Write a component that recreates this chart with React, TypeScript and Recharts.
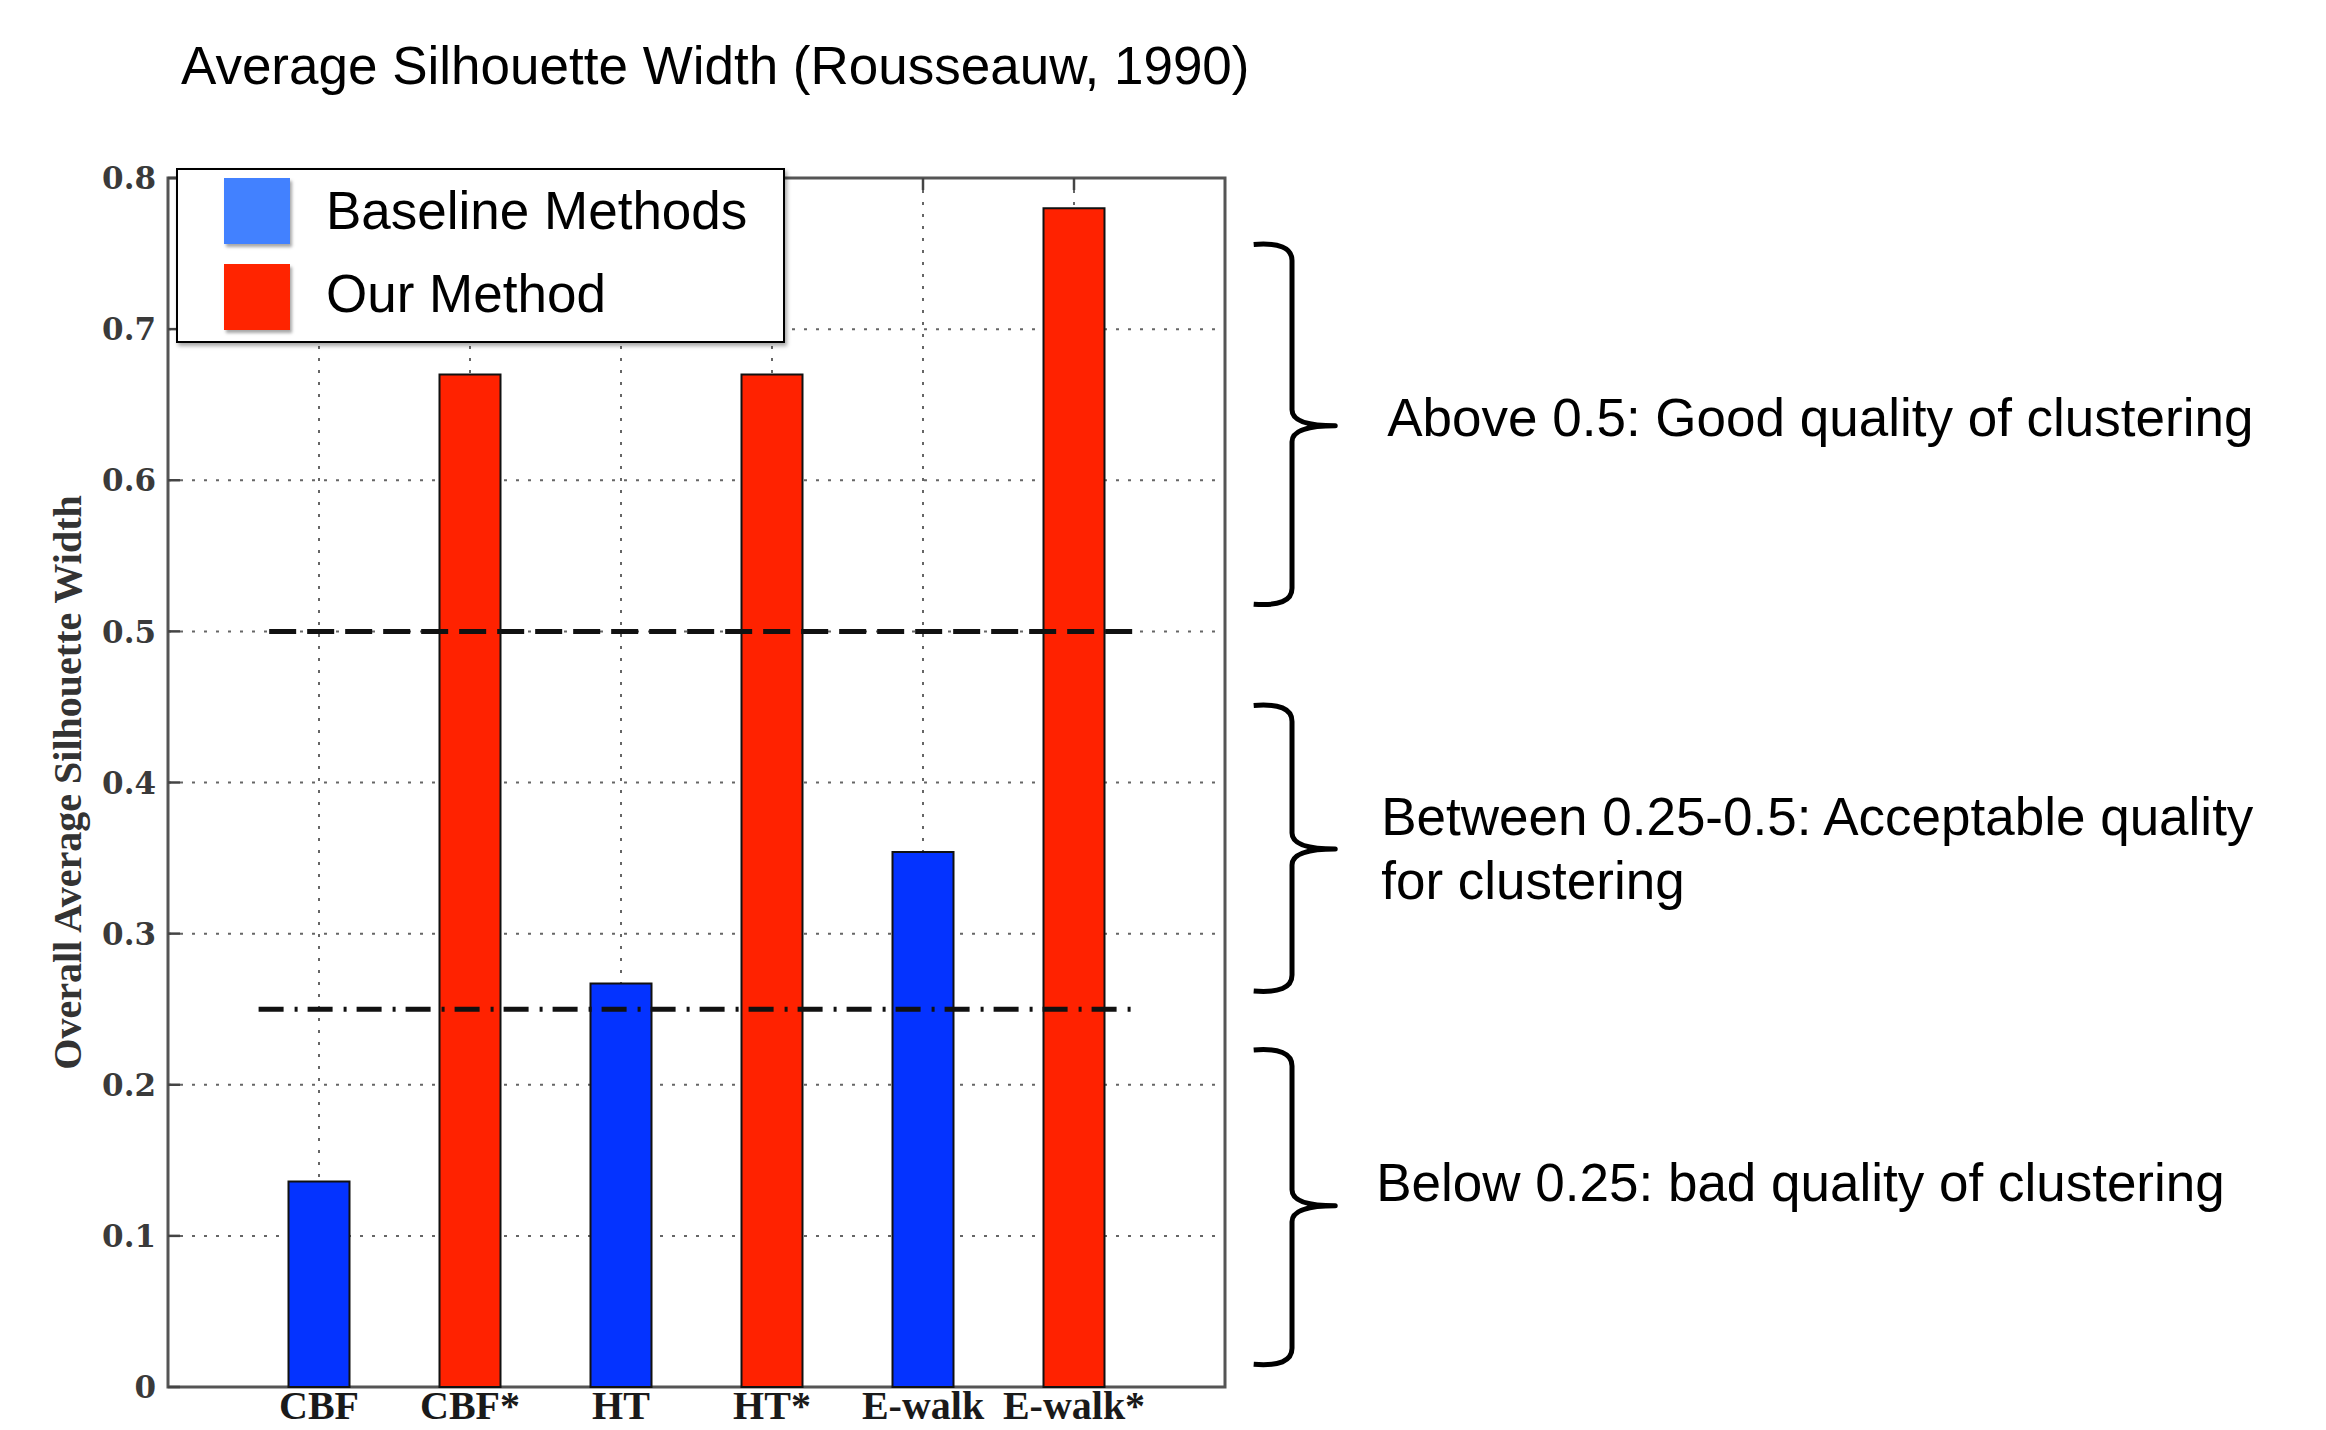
import React from 'react';
import {
  ComposedChart,
  Bar,
  XAxis,
  YAxis,
  CartesianGrid,
  ReferenceLine,
  ReferenceArea,
  Legend,
  Customized,
} from 'recharts';

// ---------- data ----------
const CATEGORIES = ['CBF', 'CBF*', 'HT', 'HT*', 'E-walk', 'E-walk*'];
const POSITIONS = [1, 2, 3, 4, 5, 6];
const BASELINE_VALUES: (number | null)[] = [0.136, null, 0.267, null, 0.354, null];
const OUR_VALUES: (number | null)[] = [null, 0.67, null, 0.67, null, 0.78];
const Y_TICKS = [0, 0.1, 0.2, 0.3, 0.4, 0.5, 0.6, 0.7, 0.8];
const SERIES_NAMES = ['Baseline Methods', 'Our Method'];
const GOOD_THRESHOLD = 0.5;
const ACCEPT_THRESHOLD = 0.25;
const GOOD_SPAN = [0.67, 6.4];
const ACCEPT_SPAN = [0.6, 6.4];
const BRACE_RANGES = [
  [0.518, 0.756],
  [0.262, 0.451],
  [0.015, 0.223],
];
const BRACE_TIPS = [0.636, 0.356, 0.12];
const BRACE_TEXTS = [
  ['Above 0.5: Good quality of clustering'],
  ['Between 0.25-0.5: Acceptable quality', 'for clustering'],
  ['Below 0.25: bad quality of clustering'],
];
const BRACE_X = [7.19, 7.73];
const TITLE = 'Average Silhouette Width (Rousseauw, 1990)';
const Y_LABEL = 'Overall Average Silhouette Width';

const data = POSITIONS.map((p, i) => {
  const row: any = { pos: p, label: CATEGORIES[i] };
  if (BASELINE_VALUES[i] != null) row.baseline = BASELINE_VALUES[i];
  if (OUR_VALUES[i] != null) row.ours = OUR_VALUES[i];
  return row;
});

// ---------- styles ----------
const BAR_BLUE = '#0433FF';
const BAR_RED = '#FF2200';
const LEGEND_COLORS = ['#4281FF', '#FF2400'];
const SANS = 'Liberation Sans, Arial, Helvetica, sans-serif';
const SERIF = 'Liberation Serif, Times New Roman, serif';
const TICK_SERIF = 'DejaVu Serif, serif';
const TEXT_DX = [52, 46, 41];
const TEXT_DY = [10, -14, -5];

const W = 2326;
const H = 1430;

const LeftTick = (props: any) => {
  const { x, y, payload } = props;
  const ax = x + 12;
  return (
    <g>
      <line x1={ax} x2={ax + 12} y1={y} y2={y} stroke="#444" strokeWidth={2.5} />
      <text
        x={x}
        y={y}
        dy="0.36em"
        textAnchor="end"
        fontFamily={TICK_SERIF}
        fontWeight="bold"
        fontSize={31}
        fill="#3a3a3a"
      >
        {payload.value === 0 ? '0' : String(payload.value)}
      </text>
    </g>
  );
};

const RightTick = (props: any) => {
  const { x, y } = props;
  return <line x1={x - 12} x2={x} y1={y} y2={y} stroke="#444" strokeWidth={2.5} />;
};

const TopTick = (props: any) => {
  const { x, y } = props;
  return <line x1={x} x2={x} y1={y} y2={y + 12} stroke="#444" strokeWidth={2.5} />;
};

const BottomTick = (props: any) => {
  const { x, y, payload } = props;
  const idx = POSITIONS.indexOf(payload.value);
  return (
    <text
      x={x}
      y={y}
      dy={32}
      textAnchor="middle"
      fontFamily={SERIF}
      fontWeight="bold"
      fontSize={40}
      fill="#1a1a1a"
    >
      {CATEGORIES[idx]}
    </text>
  );
};

const makeBrace = (i: number) => (props: any) => {
  const { x, y, width, height } = props;
  if (![x, y, width, height].every((v) => typeof v === 'number' && isFinite(v))) return null;
  const [lo, hi] = BRACE_RANGES[i];
  const frac = (hi - BRACE_TIPS[i]) / (hi - lo);
  const top = y;
  const bot = y + height;
  const ty = y + height * frac;
  const sx = x + width * 0.47;
  const tx = x + width;
  const r = 16;
  const d = [
    `M ${x} ${top}`,
    `Q ${sx} ${top - 3} ${sx} ${top + r}`,
    `L ${sx} ${ty - r}`,
    `Q ${sx} ${ty} ${tx} ${ty}`,
    `Q ${sx} ${ty} ${sx} ${ty + r}`,
    `L ${sx} ${bot - r}`,
    `Q ${sx} ${bot + 3} ${x} ${bot}`,
  ].join(' ');
  return (
    <g>
      <path d={d} fill="none" stroke="#000" strokeWidth={5} strokeLinejoin="round" />
      {BRACE_TEXTS[i].map((line, k) => (
        <text
          key={k}
          x={tx + TEXT_DX[i]}
          y={ty + TEXT_DY[i] + k * 64}
          fontFamily={SANS}
          fontSize={53}
          fill="#000"
        >
          {line}
        </text>
      ))}
    </g>
  );
};

const LegendBox = () => (
  <div
    style={{
      width: 605,
      height: 171,
      border: '2px solid #000',
      background: '#fff',
      boxShadow: '2px 3px 4px rgba(0,0,0,0.35)',
      position: 'relative',
      fontFamily: SANS,
      boxSizing: 'content-box',
    }}
  >
    {SERIES_NAMES.map((name, i) => (
      <div key={name}>
        <div
          style={{
            position: 'absolute',
            left: 46,
            top: i === 0 ? 8 : 94,
            width: 66,
            height: 66,
            background: LEGEND_COLORS[i],
            boxShadow: '2px 3px 3px rgba(0,0,0,0.35)',
          }}
        />
        <div
          style={{
            position: 'absolute',
            left: 148,
            top: i === 0 ? 41 - 32 : 124 - 32,
            height: 64,
            lineHeight: '64px',
            fontSize: 53,
            color: '#000',
            whiteSpace: 'nowrap',
          }}
        >
          {name}
        </div>
      </div>
    ))}
  </div>
);

export default function App() {
  return (
    <div style={{ position: 'absolute', left: 0, top: 0, width: W, height: H, background: '#fff', overflow: 'hidden' }}>
      <ComposedChart
        width={W}
        height={H}
        data={data}
        margin={{ top: 177, right: 1100, bottom: 0, left: 0 }}
      >
        <CartesianGrid
          stroke="#666"
          strokeWidth={2}
          strokeDasharray="3 9"
          horizontalValues={Y_TICKS}
          verticalValues={POSITIONS}
        />
        <XAxis
          dataKey="pos"
          type="number"
          domain={[0, 7]}
          ticks={POSITIONS}
          interval={0}
          height={43}
          tickSize={0}
          tickMargin={0}
          axisLine={false}
          tickLine={false}
          tick={<BottomTick />}
        />
        <XAxis
          xAxisId="top"
          orientation="top"
          dataKey="pos"
          type="number"
          domain={[0, 7]}
          ticks={POSITIONS}
          interval={0}
          height={1}
          tickSize={0}
          tickMargin={0}
          axisLine={false}
          tickLine={false}
          tick={<TopTick />}
        />
        <YAxis
          type="number"
          domain={[0, 0.8]}
          ticks={Y_TICKS}
          interval={0}
          width={168}
          tickSize={0}
          tickMargin={12}
          axisLine={false}
          tickLine={false}
          tick={<LeftTick />}
          label={{
            content: (p: any) => {
              const vb = p.viewBox || {};
              const cx = (vb.x ?? 0) + 67;
              const cy = (vb.y ?? 177) + (vb.height ?? 1210) / 2;
              return (
                <text
                  x={cx}
                  y={cy}
                  transform={`rotate(-90, ${cx}, ${cy})`}
                  textAnchor="middle"
                  dominantBaseline="central"
                  fontFamily={SERIF}
                  fontWeight="bold"
                  fontSize={40}
                  fill="#333"
                >
                  {Y_LABEL}
                </text>
              );
            },
          }}
        />
        <YAxis
          yAxisId="right"
          orientation="right"
          type="number"
          domain={[0, 0.8]}
          ticks={Y_TICKS}
          interval={0}
          width={1}
          tickSize={0}
          tickMargin={0}
          axisLine={false}
          tickLine={false}
          tick={<RightTick />}
        />
        <Bar
          dataKey="baseline"
          name={SERIES_NAMES[0]}
          stackId="s"
          fill={BAR_BLUE}
          stroke="#111"
          strokeWidth={2}
          barSize={61}
          isAnimationActive={false}
        />
        <Bar
          dataKey="ours"
          name={SERIES_NAMES[1]}
          stackId="s"
          fill={BAR_RED}
          stroke="#111"
          strokeWidth={2}
          barSize={61}
          isAnimationActive={false}
        />
        <ReferenceArea
          x1={0}
          x2={7}
          y1={0}
          y2={0.8}
          fill="none"
          fillOpacity={0}
          stroke="#555"
          strokeWidth={3}
          ifOverflow="visible"
        />
        <ReferenceLine
          segment={[
            { x: GOOD_SPAN[0], y: GOOD_THRESHOLD },
            { x: GOOD_SPAN[1], y: GOOD_THRESHOLD },
          ]}
          stroke="#111"
          strokeWidth={5}
          strokeDasharray="27 11"
          ifOverflow="visible"
        />
        <ReferenceLine
          segment={[
            { x: ACCEPT_SPAN[0], y: ACCEPT_THRESHOLD },
            { x: ACCEPT_SPAN[1], y: ACCEPT_THRESHOLD },
          ]}
          stroke="#111"
          strokeWidth={5}
          strokeDasharray="25 11 3 10"
          ifOverflow="visible"
        />
        {BRACE_RANGES.map((r, i) => (
          <ReferenceArea
            key={i}
            x1={BRACE_X[0]}
            x2={BRACE_X[1]}
            y1={r[0]}
            y2={r[1]}
            ifOverflow="visible"
            shape={makeBrace(i)}
          />
        ))}
        <Legend
          layout="vertical"
          align="center"
          verticalAlign="middle"
          content={() => <LegendBox />}
          wrapperStyle={{ position: 'absolute', left: 176, top: 168, width: 609, height: 175 }}
        />
        <Customized
          component={() => (
            <text x={181} y={84} fontFamily={SANS} fontSize={53} fill="#000">
              {TITLE}
            </text>
          )}
        />
      </ComposedChart>
    </div>
  );
}
